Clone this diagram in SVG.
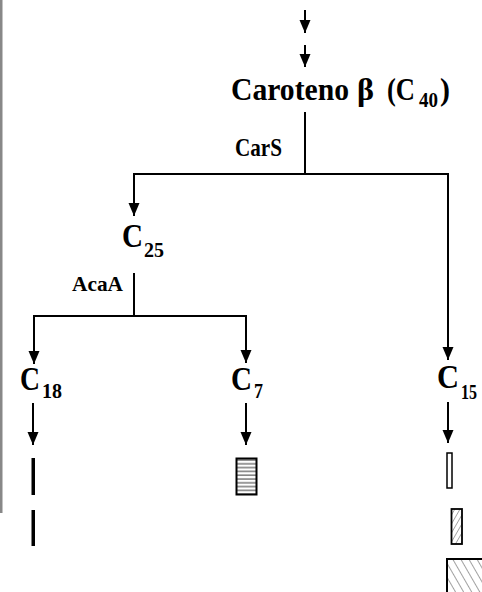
<svg xmlns="http://www.w3.org/2000/svg" width="482" height="592" viewBox="0 0 482 592">
<style>
.t{font-family:"Liberation Serif","Times New Roman",serif;font-weight:bold;fill:#000}
.c{stroke:#000;stroke-width:2;fill:none}
.a{stroke:#000;stroke-width:2;fill:none;marker-end:url(#ah)}
</style>
<defs>
<marker id="ah" markerUnits="userSpaceOnUse" markerWidth="14" markerHeight="12" refX="13" refY="5.5" orient="auto">
<path d="M0,0 L13,5.5 L0,11 z" fill="#000"/>
</marker>
<pattern id="hs" patternUnits="userSpaceOnUse" width="21" height="3.8" x="0" y="458">
<line x1="0" y1="2" x2="21" y2="2" stroke="#555" stroke-width="1.2"/>
</pattern>
<pattern id="fw" patternUnits="userSpaceOnUse" width="4.5" height="4.5" patternTransform="rotate(30)">
<line x1="0" y1="0" x2="0" y2="4.5" stroke="#555" stroke-width="1"/>
</pattern>
<pattern id="bw" patternUnits="userSpaceOnUse" width="7" height="7" patternTransform="rotate(-30)">
<line x1="0" y1="0" x2="0" y2="7" stroke="#444" stroke-width="1"/>
</pattern>
</defs>
<rect x="0" y="0" width="2.5" height="513" fill="#888"/>
<g id="connectors">
<line class="a" x1="305" y1="10" x2="305" y2="33"/>
<line class="a" x1="305" y1="45" x2="305" y2="67"/>
<line class="c" x1="305" y1="112" x2="305" y2="174"/>
<line class="c" x1="133" y1="174" x2="449" y2="174"/>
<line class="a" x1="134" y1="173" x2="134" y2="216"/>
<line class="a" x1="448" y1="173" x2="448" y2="360"/>
<line class="c" x1="134" y1="273" x2="134" y2="316"/>
<line class="c" x1="33" y1="316" x2="247" y2="316"/>
<line class="a" x1="34" y1="315" x2="34" y2="364"/>
<line class="a" x1="246" y1="315" x2="246" y2="363"/>
<line class="a" x1="33" y1="403" x2="33" y2="445"/>
<line class="a" x1="246" y1="403" x2="246" y2="445"/>
<line class="a" x1="448" y1="402" x2="448" y2="443"/>
<text class="t" x="235" y="156" font-size="25" textLength="47" lengthAdjust="spacingAndGlyphs">CarS</text>
<text class="t" x="72" y="291" font-size="22" textLength="51" lengthAdjust="spacingAndGlyphs">AcaA</text>
</g>
<g id="caroteno">
<text class="t" y="100" font-size="32"><tspan x="231" textLength="118" lengthAdjust="spacingAndGlyphs">Caroteno</tspan><tspan x="357" textLength="17" lengthAdjust="spacingAndGlyphs">β</tspan><tspan x="387" textLength="28" lengthAdjust="spacingAndGlyphs">(C</tspan><tspan x="419" y="107" font-size="22" textLength="19" lengthAdjust="spacingAndGlyphs">40</tspan><tspan x="440" y="100" textLength="10" lengthAdjust="spacingAndGlyphs">)</tspan></text>
</g>
<g id="c25">
<text class="t" y="247" font-size="33"><tspan x="122" textLength="21" lengthAdjust="spacingAndGlyphs">C</tspan><tspan x="144" y="257" font-size="22" textLength="20" lengthAdjust="spacingAndGlyphs">25</tspan></text>
</g>
<g id="c18">
<text class="t" y="390" font-size="33"><tspan x="20" textLength="20" lengthAdjust="spacingAndGlyphs">C</tspan><tspan x="42" y="398" font-size="22" textLength="20" lengthAdjust="spacingAndGlyphs">18</tspan></text>
<rect x="31.5" y="458" width="3.5" height="37" fill="#000"/>
<rect x="31.5" y="510" width="3.5" height="36" fill="#000"/>
</g>
<g id="c7">
<text class="t" y="390" font-size="33"><tspan x="231" textLength="21" lengthAdjust="spacingAndGlyphs">C</tspan><tspan x="254" y="398" font-size="22" textLength="9" lengthAdjust="spacingAndGlyphs">7</tspan></text>
<rect x="236.5" y="458.5" width="20" height="36" fill="url(#hs)" stroke="#000" stroke-width="2"/>
</g>
<g id="c15">
<text class="t" y="388" font-size="33"><tspan x="437" textLength="22" lengthAdjust="spacingAndGlyphs">C</tspan><tspan x="461" y="399" font-size="22" textLength="16" lengthAdjust="spacingAndGlyphs">15</tspan></text>
<rect x="447" y="453" width="5" height="35" fill="#fff" stroke="#000" stroke-width="1.5"/>
<rect x="451.5" y="509" width="10.5" height="35" fill="url(#fw)" stroke="#000" stroke-width="1.8"/>
<rect x="447" y="559" width="40" height="40" fill="url(#bw)" stroke="#000" stroke-width="2"/>
</g>
</svg>
